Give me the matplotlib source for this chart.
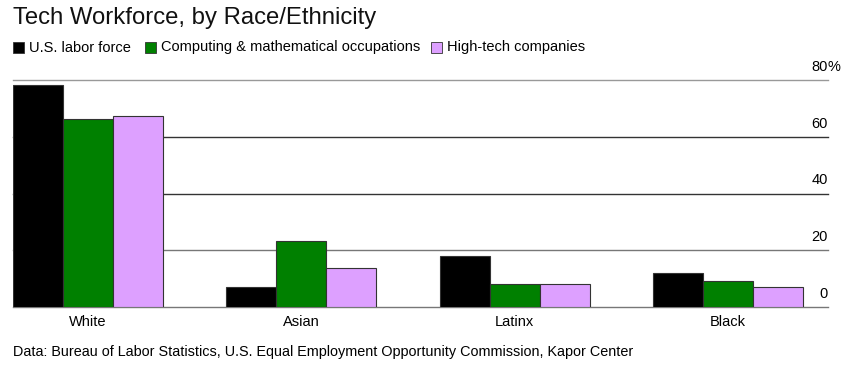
import matplotlib
matplotlib.use("Agg")
import matplotlib.pyplot as plt
from matplotlib.patches import Rectangle
import numpy as np

plt.rcParams["font.family"] = ["Liberation Sans", "DejaVu Sans"]

# Data (percent of workforce)
groups = ["White", "Asian", "Latinx", "Black"]
series = ["U.S. labor force", "Computing & mathematical occupations", "High-tech companies"]
labor_force = [78.1, 7.1, 18.1, 12.0]
computing = [66.3, 23.1, 8.1, 9.2]
high_tech = [67.4, 13.9, 8.1, 7.0]
yticks = [0, 20, 40, 60, 80]

colors = ["#000000", "#008000", "#dda0ff"]

W, H = 853, 377
fig = plt.figure(figsize=(W / 100, H / 100), dpi=100)


def fx(px):
    return px / W


def fy(py):
    return 1 - py / H


ax = fig.add_axes([fx(13), fy(307), fx(828) - fx(13), fy(80) - fy(307)])

x = np.arange(len(groups))
bw = 0.234
for i, vals in enumerate([labor_force, computing, high_tech]):
    ax.bar(x + (i - 1) * bw, vals, width=bw, color=colors[i],
           edgecolor="#333333", linewidth=0.8, zorder=3)

ax.set_xlim(-0.351, 3.468)
ax.set_ylim(0, 80)

# gridlines and right-side labels
for t in yticks:
    col = "#999999" if t == 80 else ("#777777" if t in (0, 20) else "#333333")
    ax.axhline(t, color=col, linewidth=1, zorder=1, clip_on=False)
    lab = "80" if t == 80 else str(t)
    ax.annotate(lab, xy=(1, t), xycoords=("axes fraction", "data"),
                xytext=(0, 6.5), textcoords="offset points",
                ha="right", va="baseline", fontsize=10.5)
    if t == 80:
        ax.annotate("%", xy=(1, t), xycoords=("axes fraction", "data"),
                    xytext=(0, 6.5), textcoords="offset points",
                    ha="left", va="baseline", fontsize=10.5)

ax.set_yticks([])
ax.set_xticks(x)
ax.set_xticklabels(groups, fontsize=10.5)
ax.tick_params(axis="x", length=0, pad=6)
for s in ax.spines.values():
    s.set_visible(False)

# title
fig.text(fx(13), fy(18), "Tech Workforce, by Race/Ethnicity", fontsize=17.2,
         ha="left", va="center", color="#111111")

# legend
leg_x = [13, 145, 431]
for lx, lab, c in zip(leg_x, series, colors):
    fig.add_artist(Rectangle((fx(lx), fy(53)), fx(11), 11 / H, transform=fig.transFigure,
                             facecolor=c, edgecolor="#333333", linewidth=0.6))
    fig.text(fx(lx + 16), fy(47.5), lab, fontsize=10.5, ha="left", va="center")

# source
fig.text(fx(13), fy(352), "Data: Bureau of Labor Statistics, U.S. Equal Employment "
         "Opportunity Commission, Kapor Center", fontsize=10.4, ha="left", va="center")

fig.savefig("out.png", dpi=100)
